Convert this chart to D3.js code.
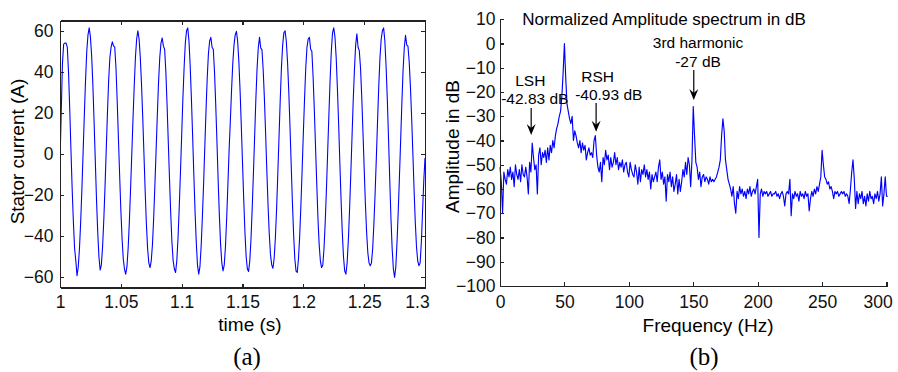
<!DOCTYPE html>
<html>
<head>
<meta charset="utf-8">
<script src="https://cdn.jsdelivr.net/npm/d3@7/dist/d3.min.js"></script>
<style>
  html, body { margin: 0; padding: 0; background: #fff; }
  svg { display: block; font-family: "Liberation Sans", Arial, Helvetica, sans-serif; }
  .axis path, .axis line { stroke: #222; stroke-width: 1.1; shape-rendering: crispEdges; }
  .axis text { fill: #111; font-size: 17.5px; }
</style>
</head>
<body>
<svg id="chart" width="898" height="372"></svg>
<script>
// ---- (a) stator current, one sample every 1 ms from t = 1.000 s ----
const timeStart = 1.0;
const timeStep = 0.001;
const currentValues = [
  -4, 20, 44, 53.5, 54, 54, 52, 40, 22, 2, -17, -33, -46, -52, -59.3, -55, -46, -33, -17, 1,
  19, 36, 50, 58, 61.4, 57, 48, 34, 16, -3, -22, -38, -50, -56.5, -54, -45, -32, -16, 2, 20,
  36, 47, 52, 54.6, 52.6, 52, 42, 26, 8, -10, -27, -41, -51, -56, -58.5, -55, -46, -33, -17, 0,
  17, 33, 47, 56, 60, 56, 47, 34, 18, 0, -18, -34, -46, -53, -55.3, -52, -44, -31, -15, 2,
  19, 35, 47, 54, 56.5, 52.5, 51, 40, 24, 6, -12, -29, -43, -52, -56, -57.7, -52, -41, -26, -9,
  9, 27, 42, 54, 60, 61.4, 55, 43, 27, 9, -10, -28, -43, -54, -58.5, -55, -45, -31, -15, 3,
  21, 37, 49, 55, 56.8, 52, 51, 40, 24, 6, -13, -30, -44, -53, -56.9, -54, -45, -31, -15, 2,
  16, 31, 44, 53, 58, 59.7, 55, 45, 31, 14, -4, -22, -38, -50, -56, -57.2, -52, -41, -26, -9,
  9, 27, 42, 52, 56.8, 51.5, 50.8, 41, 27, 10, -8, -25, -39, -49, -54, -55.6, -51, -41, -27, -10,
  8, 26, 42, 53, 59, 60, 55, 45, 31, 14, -5, -23, -39, -51, -57, -57.7, -51, -40, -25, -8,
  10, 27, 42, 52, 56, 56.8, 51, 50, 38, 22, 4, -14, -31, -44, -52, -55.3, -54, -46, -33, -17,
  1, 19, 36, 50, 59, 61.4, 57, 47, 32, 15, -4, -22, -38, -50, -57, -58.5, -53, -42, -27, -10,
  8, 26, 41, 53, 58.5, 52, 50.3, 42, 28, 11, -7, -24, -38, -48, -53, -54.4, -53, -46, -34, -19,
  -2, 16, 33, 47, 56, 60, 61.4, 55, 43, 27, 8, -12, -31, -46, -56, -60.1, -55, -43, -28, -11,
  7, 25, 41, 52, 57.8, 53, 52.5, 45, 33, 18, 1, -17, -33, -45, -52, -54.4, -53, -43, -28, -13, -2
];
const timeTicks = [1, 1.05, 1.1, 1.15, 1.2, 1.25, 1.3];
const currentTicks = [-60, -40, -20, 0, 20, 40, 60];

// ---- (b) normalized amplitude spectrum, 1 Hz bins from 0 Hz ----
const freqStep = 1;
const spectrumValues = [
  -51, -57, -70, -53, -56, -58, -52, -55, -51, -56,
  -53, -59, -50, -54, -56, -52, -57, -50, -54, -55,
  -51, -55, -62, -49, -53, -41, -47, -52, -50, -62,
  -46, -43, -50, -45, -47, -44, -49, -43, -48, -42,
  -45, -40, -43, -38, -35, -33, -30, -28, -22, -12,
  0, -14, -25, -28, -31, -33, -30, -40, -36, -38,
  -41, -43, -40, -45, -41, -44, -42, -48, -45, -43,
  -46, -45, -47, -40, -38, -46, -51, -53, -49, -57,
  -47, -50, -44, -48, -46, -52, -47, -51, -49, -45,
  -50, -47, -52, -49, -51, -48, -53, -50, -49, -53,
  -55, -49, -52, -54, -55, -50, -53, -58, -51, -57,
  -52, -54, -50, -55, -52, -56, -53, -60, -54, -57,
  -55, -53, -57, -51, -48, -56, -53, -58, -55, -65,
  -54, -57, -53, -59, -55, -61, -58, -54, -62, -56,
  -61, -57, -52, -55, -49, -54, -47, -50, -59, -48,
  -26, -38, -49, -51, -56, -53, -59, -55, -54, -57,
  -55, -56, -58, -55, -57, -56, -57, -56, -55, -53,
  -51, -48, -38, -31, -36, -48, -52, -56, -58, -60,
  -63, -59, -66, -70, -61, -64, -59, -62, -60, -63,
  -61, -64, -60, -62, -59, -63, -61, -60, -62, -59,
  -56, -80, -62, -60, -63, -61, -62, -61, -63, -62,
  -61, -63, -62, -62, -61, -63, -62, -64, -62, -61,
  -63, -67, -62, -61, -62, -56, -71, -62, -64, -61,
  -63, -62, -65, -61, -63, -62, -64, -61, -63, -62,
  -69, -64, -61, -63, -60, -62, -59, -61, -58, -55,
  -44, -50, -55, -56, -58, -57, -60, -59, -61, -64,
  -61, -62, -61, -63, -62, -61, -62, -61, -63, -62,
  -63, -66, -60, -53, -48, -56, -68, -61, -66, -62,
  -64, -61, -66, -63, -67, -62, -65, -61, -64, -63,
  -66, -62, -64, -61, -65, -62, -55, -67, -62, -55,
  -63, -63
];
const freqTicks = [0, 50, 100, 150, 200, 250, 300];
const dbTicks = [-100, -90, -80, -70, -60, -50, -40, -30, -20, -10, 0, 10];

// annotations: arrow at freq, from dB top to dB tip; two text lines above it
const noteNames = ['LSH', 'RSH', '3rd harmonic'];
const noteValues = ['-42.83 dB', '-40.93 dB', '-27 dB'];
const noteArrowFreq = [24.2, 74.6, 150.4];
const noteArrowFrom = [-26.6, -24.5, -10.9];
const noteArrowTo = [-37.7, -36.4, -23.3];
const noteNameAt = [[23.5, -17.6], [75.8, -16], [153.7, -2]];
const noteValueAt = [[27, -25.1], [84.4, -23.3], [153.7, -9.6]];

const svg = d3.select('#chart');

// ===== panel (a) =====
const xa = d3.scaleLinear().domain([1, 1.3]).range([60, 425]);
const ya = d3.scaleLinear().domain([-65, 65]).range([287.5, 20.5]);

const ga = svg.append('g');

ga.append('defs').append('clipPath').attr('id', 'clipA')
  .append('rect')
  .attr('x', xa.range()[0]).attr('y', ya.range()[1])
  .attr('width', xa.range()[1] - xa.range()[0])
  .attr('height', ya.range()[0] - ya.range()[1]);

const currentLine = d3.line()
  .x((d, i) => xa(timeStart + i * timeStep))
  .y((d) => ya(d));

ga.append('path')
  .datum(currentValues)
  .attr('clip-path', 'url(#clipA)')
  .attr('fill', 'none')
  .attr('stroke', '#0000ff')
  .attr('stroke-width', 1.1)
  .attr('stroke-linejoin', 'round')
  .attr('d', currentLine);

const fmtA = (d) => d3.format('~g')(d);

ga.append('g').attr('class', 'axis')
  .attr('transform', `translate(0,${ya.range()[0]})`)
  .call(d3.axisBottom(xa).tickValues(timeTicks).tickFormat(fmtA)
    .tickSizeInner(-4).tickSizeOuter(0).tickPadding(8))
  .call((g) => g.selectAll('.tick:last-of-type text').attr('dx', -8));

ga.append('g').attr('class', 'axis')
  .attr('transform', `translate(0,${ya.range()[1]})`)
  .call(d3.axisTop(xa).tickValues(timeTicks).tickFormat('')
    .tickSizeInner(-4).tickSizeOuter(0));

ga.append('g').attr('class', 'axis')
  .attr('transform', `translate(${xa.range()[0]},0)`)
  .call(d3.axisLeft(ya).tickValues(currentTicks)
    .tickSizeInner(-4).tickSizeOuter(0).tickPadding(6.5));

ga.append('g').attr('class', 'axis')
  .attr('transform', `translate(${xa.range()[1]},0)`)
  .call(d3.axisRight(ya).tickValues(currentTicks).tickFormat('')
    .tickSizeInner(-4).tickSizeOuter(0));

ga.append('text')
  .attr('x', 250).attr('y', 331)
  .attr('text-anchor', 'middle')
  .style('font-size', '19px')
  .text('time (s)');

ga.append('text')
  .attr('transform', 'translate(23.5,151.5) rotate(-90)')
  .attr('text-anchor', 'middle')
  .style('font-size', '19px')
  .text('Stator current (A)');

ga.append('text')
  .attr('x', 247).attr('y', 365)
  .attr('text-anchor', 'middle')
  .style('font-family', '"Liberation Serif", "Times New Roman", serif')
  .style('font-size', '25px')
  .text('(a)');

// ===== panel (b) =====
const xb = d3.scaleLinear().domain([0, 301]).range([500, 887.8]);
const yb = d3.scaleLinear().domain([-100, 10]).range([286, 19.3]);

const gb = svg.append('g');

const spectrumLine = d3.line()
  .x((d, i) => xb(i * freqStep))
  .y((d) => yb(d));

gb.append('path')
  .datum(spectrumValues)
  .attr('fill', 'none')
  .attr('stroke', '#0000ff')
  .attr('stroke-width', 1.15)
  .attr('stroke-linejoin', 'round')
  .attr('d', spectrumLine);

gb.append('g').attr('class', 'axis')
  .attr('transform', `translate(0,${yb.range()[0]})`)
  .call(d3.axisBottom(xb).tickValues(freqTicks)
    .tickSizeInner(-4).tickSizeOuter(0).tickPadding(9.5))
  .call((g) => g.selectAll('.tick:last-of-type text').attr('dx', -9));

gb.append('g').attr('class', 'axis')
  .attr('transform', `translate(${xb.range()[0]},0)`)
  .call(d3.axisLeft(yb).tickValues(dbTicks)
    .tickSizeInner(-4).tickSizeOuter(0).tickPadding(4.5));

gb.append('text')
  .attr('x', 708).attr('y', 332)
  .attr('text-anchor', 'middle')
  .style('font-size', '19px')
  .text('Frequency (Hz)');

gb.append('text')
  .attr('transform', 'translate(459,146.5) rotate(-90)')
  .attr('text-anchor', 'middle')
  .style('font-size', '19px')
  .text('Amplitude in dB');

gb.append('text')
  .attr('x', 664).attr('y', 25)
  .attr('text-anchor', 'middle')
  .style('font-size', '17px')
  .text('Normalized Amplitude spectrum in dB');

gb.append('text')
  .attr('x', 704).attr('y', 365)
  .attr('text-anchor', 'middle')
  .style('font-family', '"Liberation Serif", "Times New Roman", serif')
  .style('font-size', '25px')
  .text('(b)');

// annotations with arrows
const notes = gb.append('g').attr('class', 'notes');
noteNames.forEach((name, i) => {
  notes.append('text')
    .attr('x', xb(noteNameAt[i][0])).attr('y', yb(noteNameAt[i][1]))
    .attr('text-anchor', 'middle')
    .style('font-size', '15.5px')
    .text(name);
  notes.append('text')
    .attr('x', xb(noteValueAt[i][0])).attr('y', yb(noteValueAt[i][1]))
    .attr('text-anchor', 'middle')
    .style('font-size', '15.5px')
    .text(noteValues[i]);

  const ax = xb(noteArrowFreq[i]);
  const y0 = yb(noteArrowFrom[i]);
  const y1 = yb(noteArrowTo[i]);
  notes.append('line')
    .attr('x1', ax).attr('x2', ax)
    .attr('y1', y0).attr('y2', y1 - 4)
    .attr('stroke', '#000').attr('stroke-width', 1.2);
  notes.append('path')
    .attr('d', `M${ax},${y1} L${ax - 4.5},${y1 - 11} L${ax},${y1 - 7} L${ax + 4.5},${y1 - 11} Z`)
    .attr('fill', '#000');
});
</script>
</body>
</html>
